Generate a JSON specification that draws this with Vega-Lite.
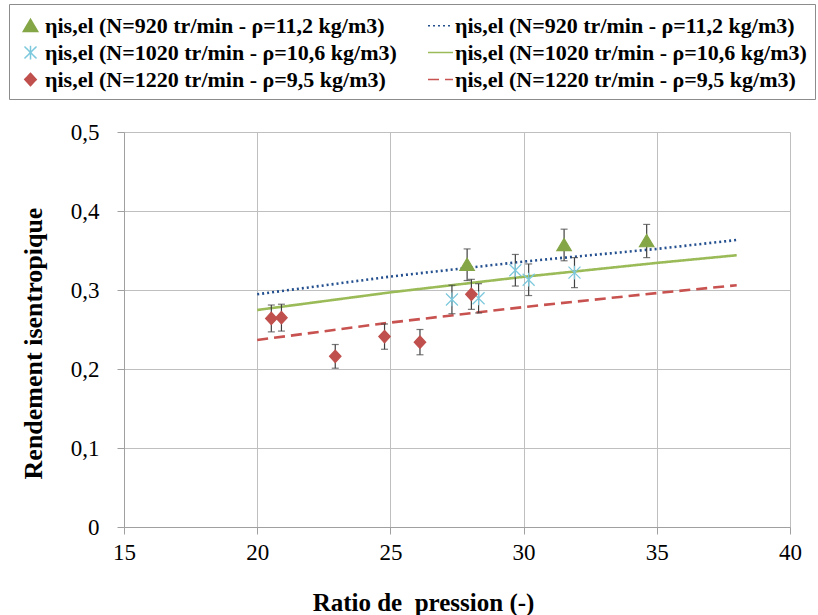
{
  "$schema": "https://vega.github.io/schema/vega-lite/v6.json",
  "autosize": "none",
  "width": 666,
  "height": 395,
  "padding": {"left": 124, "top": 132, "right": 28, "bottom": 88},
  "background": "white",
  "config": {
    "view": {"stroke": null},
    "axis": {
      "labelFont": "Liberation Serif",
      "labelFontSize": 23,
      "labelColor": "#000000",
      "titleFont": "Liberation Serif",
      "titleFontSize": 25,
      "titleFontWeight": "bold",
      "titleColor": "#000000",
      "gridColor": "#BFBFBF",
      "gridWidth": 1,
      "domainColor": "#A0A0A0",
      "tickColor": "#A0A0A0",
      "tickSize": 7
    },
    "legend": {
      "labelFont": "Liberation Serif",
      "labelFontSize": 22,
      "labelFontWeight": "bold",
      "labelColor": "#000000"
    }
  },
  "datasets": {
    "points": [
      {"entry": "P920", "x": 27.88, "y": 0.332, "lo": 0.312, "hi": 0.352},
      {"entry": "P920", "x": 31.52, "y": 0.357, "lo": 0.337, "hi": 0.377},
      {"entry": "P920", "x": 34.62, "y": 0.362, "lo": 0.341, "hi": 0.383},
      {"entry": "P1020", "x": 27.31, "y": 0.288, "lo": 0.270, "hi": 0.306},
      {"entry": "P1020", "x": 28.31, "y": 0.2895, "lo": 0.271, "hi": 0.308},
      {"entry": "P1020", "x": 29.69, "y": 0.325, "lo": 0.305, "hi": 0.345},
      {"entry": "P1020", "x": 30.19, "y": 0.313, "lo": 0.293, "hi": 0.333},
      {"entry": "P1020", "x": 31.91, "y": 0.322, "lo": 0.303, "hi": 0.341},
      {"entry": "P1220", "x": 20.53, "y": 0.264, "lo": 0.247, "hi": 0.281},
      {"entry": "P1220", "x": 20.91, "y": 0.265, "lo": 0.248, "hi": 0.282},
      {"entry": "P1220", "x": 22.93, "y": 0.216, "lo": 0.201, "hi": 0.231},
      {"entry": "P1220", "x": 24.78, "y": 0.241, "lo": 0.225, "hi": 0.257},
      {"entry": "P1220", "x": 26.11, "y": 0.234, "lo": 0.218, "hi": 0.250},
      {"entry": "P1220", "x": 28.04, "y": 0.2945, "lo": 0.2755, "hi": 0.3135}
    ],
    "fits": [
      {"entry": "L920", "x": 20, "y": 0.2946},
      {"entry": "L920", "x": 25, "y": 0.317},
      {"entry": "L920", "x": 30, "y": 0.336},
      {"entry": "L920", "x": 35, "y": 0.352},
      {"entry": "L920", "x": 38, "y": 0.3633},
      {"entry": "L1020", "x": 20, "y": 0.2747},
      {"entry": "L1020", "x": 25, "y": 0.297},
      {"entry": "L1020", "x": 30, "y": 0.3167},
      {"entry": "L1020", "x": 35, "y": 0.3343},
      {"entry": "L1020", "x": 38, "y": 0.344},
      {"entry": "L1220", "x": 20, "y": 0.2367},
      {"entry": "L1220", "x": 25, "y": 0.2588},
      {"entry": "L1220", "x": 30, "y": 0.2784},
      {"entry": "L1220", "x": 35, "y": 0.2961},
      {"entry": "L1220", "x": 38, "y": 0.306}
    ]
  },
  "encoding": {
    "x": {
      "field": "x", "type": "quantitative",
      "scale": {"domain": [15, 40], "nice": false, "zero": false},
      "axis": {"values": [15, 20, 25, 30, 35, 40], "title": "Ratio de \u00a0pression (-)", "labelPadding": 7, "labelFlush": false,
        "titleX": 299, "titleY": 75, "titleBaseline": "middle", "titleAnchor": "middle"}
    },
    "y": {
      "field": "y", "type": "quantitative",
      "scale": {"domain": [0, 0.5], "nice": false, "zero": true},
      "axis": {"values": [0, 0.1, 0.2, 0.3, 0.4, 0.5], "title": "Rendement isentropique", "labelPadding": 18,
        "titleFontSize": 26, "titleX": -91, "titleY": 211, "titleBaseline": "middle", "titleAnchor": "middle",
        "labelExpr": "datum.value == 0 ? '0' : replace(format(datum.value, '.1f'), '.', ',')"}
    }
  },
  "layer": [
    {
      "data": {"name": "fits"},
      "mark": {"type": "line", "strokeCap": "butt"},
      "encoding": {
        "color": {
          "field": "entry", "type": "nominal",
          "scale": {"domain": ["P920", "P1020", "P1220", "L920", "L1020", "L1220"],
                    "range": ["#84A646", "#7CC8DC", "#C0504D", "#24508F", "#9BBB59", "#C8524F"]}
        },
        "strokeDash": {
          "field": "entry", "type": "nominal",
          "scale": {"domain": ["P920", "P1020", "P1220", "L920", "L1020", "L1220"],
                    "range": [[1, 0], [1, 0], [1, 0], [2, 3], [1, 0], [11, 6]]}
        },
        "strokeWidth": {
          "field": "entry", "type": "nominal", "legend": null,
          "scale": {"domain": ["L920", "L1020", "L1220"], "range": [2.6, 2.6, 3.4]}
        }
      }
    },
    {
      "data": {"name": "points"},
      "mark": {"type": "errorbar", "ticks": {"size": 7, "color": "#404040", "thickness": 1.2}, "rule": {"color": "#404040", "strokeWidth": 1.2}},
      "encoding": {
        "y": {"field": "lo", "type": "quantitative"},
        "y2": {"field": "hi"}
      }
    },
    {
      "data": {"name": "points"},
      "mark": {"type": "point", "filled": true, "opacity": 1, "size": 625, "strokeWidth": 1.2},
      "encoding": {
        "color": {
          "field": "entry", "type": "nominal",
          "legend": {
            "title": null,
            "orient": "none",
            "legendX": -115,
            "legendY": -128,
            "direction": "vertical",
            "columns": 2,
            "columnPadding": 28,
            "rowPadding": 2,
            "padding": 8,
            "strokeColor": "#8C8C8C",
            "symbolSize": 625,
            "labelOffset": 1,
            "labelLimit": 500,
            "labelExpr": "indexof(datum.value,'920') > 0 ? 'ηis,el (N=920 tr/min - ρ=11,2 kg/m3)' : indexof(datum.value,'1020') > 0 ? 'ηis,el (N=1020 tr/min - ρ=10,6 kg/m3)' : 'ηis,el (N=1220 tr/min - ρ=9,5 kg/m3)'",
            "encode": {
              "symbols": {
                "update": {
                  "fill": {"scale": "color", "field": "value"},
                  "stroke": {"scale": "color", "field": "value"},
                  "opacity": {"value": 1},
                  "size": {"signal": "indexof(datum.value,'L') == 0 ? 625 : 380"},
                  "strokeWidth": {"signal": "indexof(datum.value,'L') == 0 ? 2.6 : 1.2"}
                }
              }
            }
          }
        },
        "shape": {
          "field": "entry", "type": "nominal",
          "scale": {"domain": ["P920", "P1020", "P1220", "L920", "L1020", "L1220"],
                    "range": ["M0,-0.52L0.58,0.46L-0.58,0.46Z", "M-0.48,-0.48L0.48,0.48M-0.48,0.48L0.48,-0.48M0,-0.55L0,0.55", "M0,-0.5L0.46,0L0,0.5L-0.46,0Z", "stroke", "stroke", "stroke"]}
        },
        "stroke": {
          "field": "entry", "type": "nominal", "legend": null,
          "scale": {"domain": ["P920", "P1020", "P1220"], "range": ["#84A646", "#7CC8DC", "#C0504D"]}
        }
      }
    }
  ]
}
